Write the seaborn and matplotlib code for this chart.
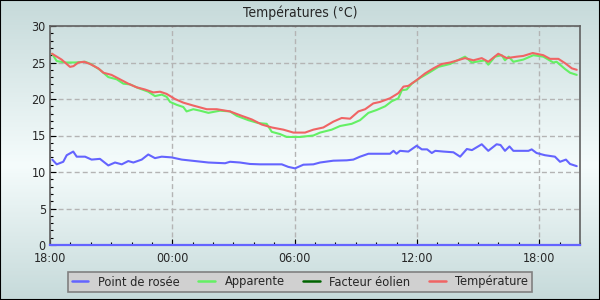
# Températures (°C) - station meteo, 26 h
import numpy as np
import pandas as pd
import matplotlib
matplotlib.use("Agg")
import matplotlib.pyplot as plt
import matplotlib.dates as mdates
from matplotlib.lines import Line2D
from matplotlib.patches import Rectangle
from matplotlib.colors import LinearSegmentedColormap
import seaborn as sns

# Data (hours after 18:00, values in °C)
temp_h = [0.1, 0.57, 0.98, 1.15, 1.39, 1.68, 1.96, 2.37, 2.62, 3.02, 3.43, 3.84, 4.25, 4.66, 5.07,
          5.4, 5.72, 6.13, 6.54, 7.03, 7.69, 8.18, 8.83, 9.4, 9.9, 10.39, 10.88, 11.45, 11.94, 12.51,
          12.92, 13.41, 13.9, 14.31, 14.72, 15.13, 15.46, 15.86, 16.19, 16.68, 17.09, 17.34, 17.58,
          17.99, 18.4, 18.81, 19.22, 19.63, 20.36, 20.77, 21.18, 21.5, 21.99, 22.41, 22.9, 23.22,
          23.68, 24.2, 24.53, 24.94, 25.27, 25.6, 25.84]
temp = [26.2, 25.4, 24.4, 24.5, 25.0, 25.1, 24.8, 24.2, 23.6, 23.3, 22.7, 22.1, 21.6, 21.3, 20.9,
        21.0, 20.7, 20.0, 19.5, 19.1, 18.6, 18.6, 18.3, 17.7, 17.2, 16.5, 16.1, 15.8, 15.4, 15.4,
        15.8, 16.1, 16.9, 17.4, 17.3, 18.3, 18.6, 19.4, 19.6, 20.1, 20.8, 21.7, 21.8,
        22.6, 23.5, 24.2, 24.8, 25.0, 25.6, 25.3, 25.6, 25.1, 26.2, 25.6, 25.8, 25.9,
        26.3, 26.0, 25.5, 25.5, 24.9, 24.2, 24.0]

app_h = [0.1, 0.33, 0.74, 1.23, 1.72, 2.0, 2.45, 2.86, 3.27, 3.6, 3.93, 4.33, 4.82, 5.15, 5.48,
         5.72, 5.89, 6.22, 6.54, 6.7, 7.03, 7.36, 7.77, 8.34, 8.83, 9.16, 9.73, 10.22, 10.63, 10.88,
         11.28, 11.61, 12.27, 12.92, 13.25, 13.82, 14.23, 14.8, 15.21, 15.62, 16.03, 16.44, 16.77,
         17.09, 17.26, 17.5, 17.75, 18.16, 18.65, 19.05, 19.63, 20.36, 20.69, 21.35, 21.5, 21.83,
         22.16, 22.32, 22.5, 22.73, 23.22, 23.71, 24.2, 24.69, 24.85, 25.27, 25.51, 25.84]
app = [26.2, 25.2, 25.0, 25.0, 25.1, 24.8, 24.0, 23.0, 22.7, 22.1, 22.0, 21.5, 21.0, 20.4, 20.6,
       20.3, 19.6, 19.2, 18.9, 18.3, 18.6, 18.4, 18.1, 18.4, 18.3, 17.7, 17.1, 16.7, 16.6, 15.5,
       15.2, 14.8, 14.8, 15.0, 15.4, 15.8, 16.3, 16.6, 17.1, 18.1, 18.5, 19.0, 19.7,
       20.1, 21.2, 21.3, 22.1, 22.9, 23.7, 24.4, 24.8, 25.8, 25.0, 25.3, 24.7, 25.8,
       26.0, 25.3, 25.8, 25.1, 25.4, 26.0, 25.8, 25.0, 25.1, 24.1, 23.6, 23.3]

dew_h = [0.11, 0.33, 0.65, 0.82, 1.14, 1.31, 1.72, 2.04, 2.45, 2.86, 3.19, 3.52, 3.84, 4.09, 4.5,
         4.82, 5.15, 5.48, 5.97, 6.46, 6.95, 7.77, 8.59, 8.83, 9.32, 9.81, 10.3, 10.79, 11.37, 11.69,
         12.02, 12.43, 12.92, 13.25, 13.9, 14.56, 14.88, 15.21, 15.62, 16.19, 16.68, 16.85, 17.0,
         17.17, 17.58, 17.99, 18.24, 18.5, 18.73, 18.9, 19.3, 19.79, 20.12, 20.45, 20.7, 21.18,
         21.5, 21.91, 22.1, 22.32, 22.54, 22.73, 23.47, 23.63, 23.87, 24.28, 24.77, 25.02, 25.31,
         25.51, 25.84]
dew = [11.7, 11.05, 11.4, 12.3, 12.8, 12.1, 12.1, 11.7, 11.8, 10.9, 11.3, 11.05, 11.5, 11.3, 11.7,
       12.4, 11.9, 12.1, 12.0, 11.7, 11.55, 11.3, 11.2, 11.4, 11.3, 11.1, 11.05, 11.05, 11.05, 10.7,
       10.5, 11.0, 11.05, 11.3, 11.55, 11.6, 11.7, 12.1, 12.5, 12.5, 12.5, 12.9, 12.5,
       12.9, 12.8, 13.6, 13.1, 13.1, 12.6, 12.9, 12.8, 12.7, 12.1, 13.15, 13.0, 13.8,
       12.9, 13.8, 13.7, 12.9, 13.5, 12.9, 12.9, 13.1, 12.6, 12.3, 12.1, 11.4, 11.7,
       11.1, 10.8]

labels = ["Point de rosée", "Apparente", "Facteur éolien", "Température"]
colors = ["#6464ff", "#64f064", "#006400", "#f06464"]

start = pd.Timestamp("2024-07-01 18:00")
end = start + pd.Timedelta(hours=26)

def to_time(hours):
    return start + pd.to_timedelta(hours, unit="h")

sns.set_style("ticks")
plt.rcParams["font.family"] = ["DejaVu Sans"]
plt.rcParams["font.stretch"] = "condensed"

fig = plt.figure(figsize=(6, 3), dpi=100)

# background gradient
bg = fig.add_axes([0, 0, 1, 1], zorder=-10)
cmap = LinearSegmentedColormap.from_list("bg", [(0, "#c6dada"), (0.55, "#f5fcfc"), (1, "#c6dada")])
bg.imshow(np.linspace(0, 1, 300).reshape(-1, 1), aspect="auto", cmap=cmap, extent=[0, 1, 0, 1])
bg.axis("off")
fig.patches.append(Rectangle((0, 0), 1, 1, transform=fig.transFigure, fill=False,
                             edgecolor="black", lw=1.5))

ax = fig.add_axes([50 / 600, 1 - 245 / 300, 530 / 600, 219 / 300])
ax.set_facecolor("none")

sns.lineplot(x=to_time(dew_h), y=dew, ax=ax, color=colors[0], lw=1.5)
sns.lineplot(x=to_time(app_h), y=app, ax=ax, color=colors[1], lw=1.5)
sns.lineplot(x=to_time(temp_h), y=temp, ax=ax, color=colors[3], lw=1.5)

ax.set_xlim(start, end)
ax.set_ylim(0, 30)
ax.set_xlabel("")
ax.set_ylabel("")
ax.yaxis.set_major_locator(plt.MultipleLocator(5))
ax.yaxis.set_minor_locator(plt.MultipleLocator(1))
ax.xaxis.set_major_locator(mdates.HourLocator(byhour=[0, 6, 12, 18]))
ax.xaxis.set_minor_locator(mdates.HourLocator())
ax.xaxis.set_major_formatter(mdates.DateFormatter("%H:%M"))
ax.tick_params(which="both", direction="in", color="black", width=0.8, labelsize=9)
ax.tick_params(axis="y", pad=3)
ax.tick_params(axis="x", pad=5)
ax.tick_params(which="major", length=4.5)
ax.tick_params(which="minor", length=2.5)
ax.grid(True, which="major", color="#b4b4b4", lw=1, linestyle=(0, (3.6, 2.2)))
for s in ax.spines.values():
    s.set_color("#606060")
    s.set_linewidth(1.2)
ax.spines["bottom"].set_color(colors[0])
ax.spines["bottom"].set_linewidth(1.6)

fig.text(0.5, 0.958, "Températures (°C)", ha="center", va="center", fontsize=10)

handles = [Line2D([], [], color=c, lw=1.8) for c in colors]
leg = fig.legend(handles, labels, loc="center", bbox_to_anchor=(0.5, 0.06), ncol=4,
                 fontsize=9.2, frameon=True, fancybox=False, framealpha=1,
                 facecolor="#d0d0d0", edgecolor="#808080", handlelength=1.3,
                 handletextpad=0.75, columnspacing=1.45, borderpad=0.3)
leg.get_frame().set_linewidth(1.2)

fig.savefig("out.png", dpi=100)
